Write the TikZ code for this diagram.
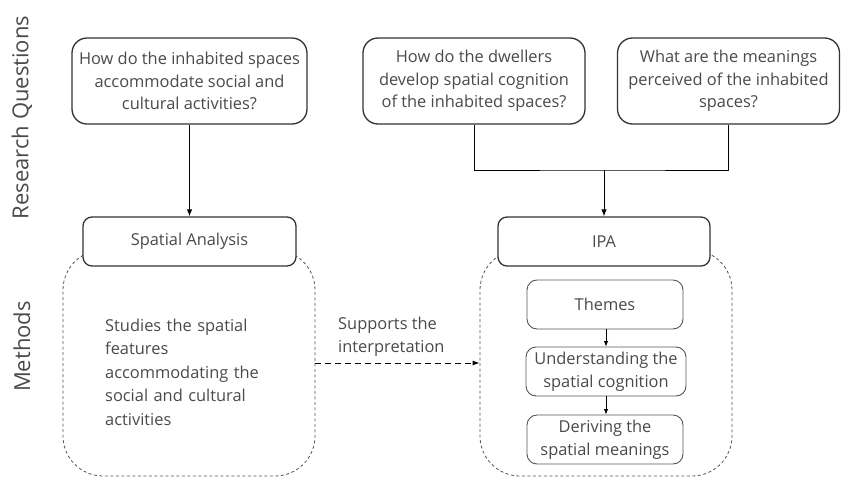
\documentclass[tikz,border=0pt]{standalone}
\usepackage{fontspec}
\setmainfont{Open Sans}
\usetikzlibrary{arrows.meta}
\definecolor{txt}{HTML}{4a4a4a}
\definecolor{bord}{HTML}{333333}
\definecolor{inner}{HTML}{555555}
\begin{document}
\begin{tikzpicture}[x=1pt,y=-1pt,
  basefont/.style={font=\fontsize{16.4}{22.5}\selectfont, text=txt},
  rqbox/.style={basefont, draw=bord, line width=1.3pt, rounded corners=15pt, fill=white, align=center, inner sep=0pt, minimum height=86pt},
  methbox/.style={basefont, draw=bord, line width=1.3pt, rounded corners=9pt, fill=white, align=center, inner sep=0pt, minimum height=49pt},
  container/.style={draw=inner, line width=0.8pt, dash pattern=on 3pt off 2.5pt, rounded corners=40pt, inner sep=0pt, minimum width=252pt, minimum height=226pt},
  stepbox/.style={basefont, draw=inner, line width=0.9pt, rounded corners=10pt, fill=white, align=center, inner sep=0pt, minimum height=49pt},
  sidelabel/.style={font=\fontsize{22}{26}\selectfont, text=txt, rotate=90},
  conn/.style={draw=black, line width=1pt},
  arr/.style={conn, -{Latex[length=7pt,width=5.5pt]}},
  smallarr/.style={conn, line width=0.8pt, -{Latex[length=5.5pt,width=4.5pt]}}
]
\useasboundingbox (0,0) rectangle (841,477);

% side labels
\node[sidelabel] (lrq) at (22,117.5) {Research Questions};
\node[sidelabel] (lm) at (22,346.5) {Methods};

% containers
\node[container] (lc) at (189,363) {};
\node[container] (rc) at (606,363) {};

% research questions
\node[rqbox, minimum width=235pt] (rq1) at (189.5,81) {How do the inhabited spaces\\accommodate social and\\cultural activities?};
\node[rqbox, minimum width=222pt] (rq2) at (474,81) {How do the dwellers\\develop spatial cognition\\of the inhabited spaces?};
\node[rqbox, minimum width=222pt] (rq3) at (728.5,81) {What are the meanings\\perceived of the inhabited\\spaces?};

% methods
\node[methbox, minimum width=213pt] (sa) at (189.5,241.5) {Spatial Analysis};
\node[methbox, minimum width=212pt] (ipa) at (604,241.5) {IPA};

% inner steps
\node[stepbox, minimum width=156pt] (th) at (605,304.5) {Themes};
\node[stepbox, minimum width=160pt] (us) at (606,371.5) {Understanding the\\spatial cognition};
\node[stepbox, minimum width=156pt] (dv) at (605,439.5) {Deriving the\\spatial meanings};

% texts
\node[basefont, anchor=west, align=left, text width=185pt, inner sep=0pt, font=\fontsize{16.4}{23.5}\selectfont] (st) at (105,372) {Studies the spatial\\features\\accommodating the\\social and cultural\\activities};
\node[basefont, anchor=west, align=left, inner sep=0pt, font=\fontsize{16.4}{23.5}\selectfont] (sp) at (338,336.5) {Supports the\\interpretation};

% connectors
\draw[arr] (rq1.south -| sa.north) -- (sa.north);
\coordinate (j) at (ipa.north |- 0,170);
\draw[conn] (rq2.south) |- (j) -| (rq3.south);
\draw[arr] (j) -- (ipa.north);
\draw[conn, dash pattern=on 6pt off 4pt, -{Latex[length=7pt,width=5pt]}] (lc.east |- 0,363) -- (rc.west |- 0,363);
\draw[smallarr] (th.south -| us.north) -- (us.north);
\draw[smallarr] (us.south) -- (dv.north -| us.south);
\end{tikzpicture}
\end{document}
